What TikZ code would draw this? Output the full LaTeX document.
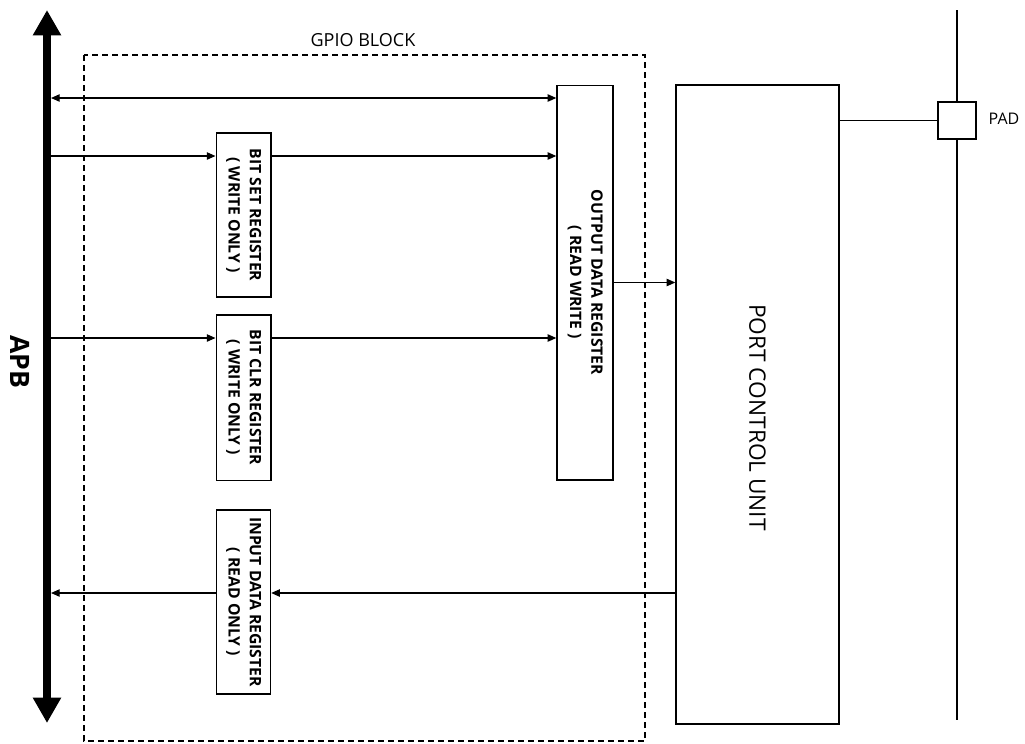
\documentclass[tikz,border=0pt]{standalone}
\usepackage{fontspec}
\setmainfont{Open Sans}
\usepackage{graphicx}
\usetikzlibrary{arrows.meta}
\begin{document}
\begin{tikzpicture}[x=0.75pt,y=-0.75pt,
  box/.style={draw, line width=1pt, rectangle, inner sep=0pt},
  reg/.style={box, minimum width=41pt, font=\bfseries\fontsize{11.8}{16}\selectfont},
  conn/.style={line width=1pt, -{Triangle[length=6.5pt,width=5.5pt]}},
  plain/.style={line width=1pt},
  bus/.style={line width=6pt, {Triangle[length=19pt,width=20pt]}-{Triangle[length=19pt,width=20pt]}},
  gpio/.style={draw, line width=0.9pt, dash pattern=on 4.5pt off 3pt}]
\useasboundingbox (0,0) rectangle (1025,743);
% APB bus
\coordinate (apbtop) at (47,10);
\coordinate (apbbot) at (47,723);
\draw[bus] (apbtop) -- (apbbot);
\node[font=\bfseries\fontsize{20}{24}\selectfont, rotate=-90] (apblabel) at (20,362) {APB};
% GPIO block
\draw[gpio] (84,55) rectangle (645,741);
\node[font=\fontsize{13.5}{16}\selectfont] (gpiolabel) at (363,40) {GPIO BLOCK};
% registers
\node[reg, minimum height=123pt] (bitset) at (243.5,215)
  {\rotatebox{-90}{\begin{tabular}{@{}c@{}}BIT SET REGISTER\\( WRITE ONLY )\end{tabular}}};
\node[reg, minimum height=124pt] (bitclr) at (243.5,397.5)
  {\rotatebox{-90}{\begin{tabular}{@{}c@{}}BIT CLR REGISTER\\( WRITE ONLY )\end{tabular}}};
\node[reg, minimum width=40.5pt, minimum height=138pt] (inreg) at (243.5,602)
  {\rotatebox{-90}{\begin{tabular}{@{}c@{}}INPUT DATA REGISTER\\( READ ONLY )\end{tabular}}};
\node[reg, minimum width=42pt, minimum height=296pt] (outreg) at (585,282.5)
  {\rotatebox{-90}{\begin{tabular}{@{}c@{}}OUTPUT DATA REGISTER\\( READ WRITE )\end{tabular}}};
% port control unit
\node[box, minimum width=122.25pt, minimum height=479.25pt, font=\fontsize{17}{20}\selectfont] (pcu) at (757.5,404.5)
  {\rotatebox{-90}{\hspace*{19.5pt}PORT CONTROL UNIT}};
% PAD
\node[box, minimum width=28.5pt, minimum height=27.75pt] (pad) at (957,120.5) {};
\node[font=\fontsize{12}{14}\selectfont, anchor=west] (padlabel) at (984,119) {PAD};
\coordinate (padtop) at (957,10);
\coordinate (padbot) at (957,720);
\draw[plain] (padtop) -- (pad.north);
\draw[plain] (pad.south) -- (padbot);
\draw[plain] (pcu.east |- pad.west) -- (pad.west);
% APB taps
\coordinate (apbO) at (51,98);
\coordinate (apbS) at (51,156);
\coordinate (apbC) at (51,338);
\coordinate (apbI) at (51,593);
\draw[conn, {Triangle[length=6.5pt,width=5.5pt]}-{Triangle[length=6.5pt,width=5.5pt]}] (apbO) -- (outreg.west |- apbO);
\draw[conn] (apbS) -- (bitset.west |- apbS);
\draw[conn] (bitset.east |- apbS) -- (outreg.west |- apbS);
\draw[conn] (apbC) -- (bitclr.west |- apbC);
\draw[conn] (bitclr.east |- apbC) -- (outreg.west |- apbC);
\draw[conn] (outreg.east) -- (pcu.west |- outreg.east);
\draw[conn] (pcu.west |- apbI) -- (inreg.east |- apbI);
\draw[conn] (inreg.west |- apbI) -- (apbI);
\end{tikzpicture}
\end{document}
